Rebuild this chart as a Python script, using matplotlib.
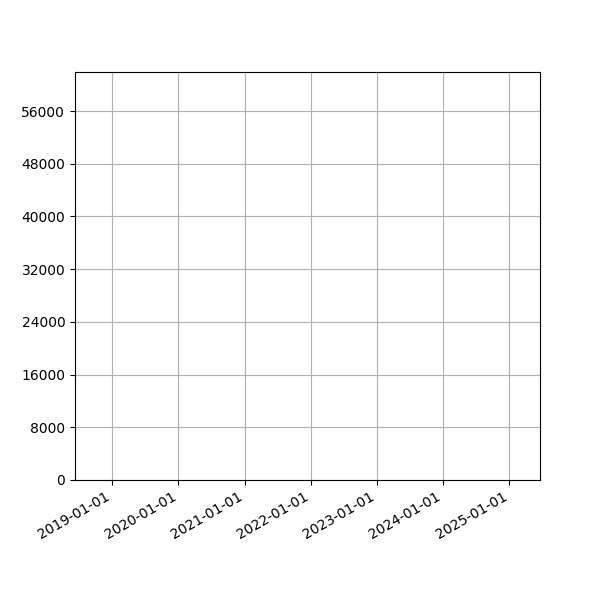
import matplotlib
matplotlib.use("Agg")
import matplotlib.pyplot as plt
import matplotlib.dates as mdates
import numpy as np
import datetime as dt

# Axis ranges (no visible data marks)
x_range = [dt.date(2018, 6, 9), dt.date(2025, 6, 19)]
y_range = [0, 61920]
y_ticks = [0, 8000, 16000, 24000, 32000, 40000, 48000, 56000]
x_ticks = [dt.date(y, 1, 1) for y in range(2019, 2026)]

fig, ax = plt.subplots(figsize=(6, 6), dpi=100)
ax.set_xlim(x_range)
ax.set_ylim(y_range)
ax.set_yticks(y_ticks)
ax.set_xticks(x_ticks)
ax.xaxis.set_major_formatter(mdates.DateFormatter("%Y-%m-%d"))
ax.grid(True)
fig.autofmt_xdate()
fig.savefig("out.png", dpi=100)
